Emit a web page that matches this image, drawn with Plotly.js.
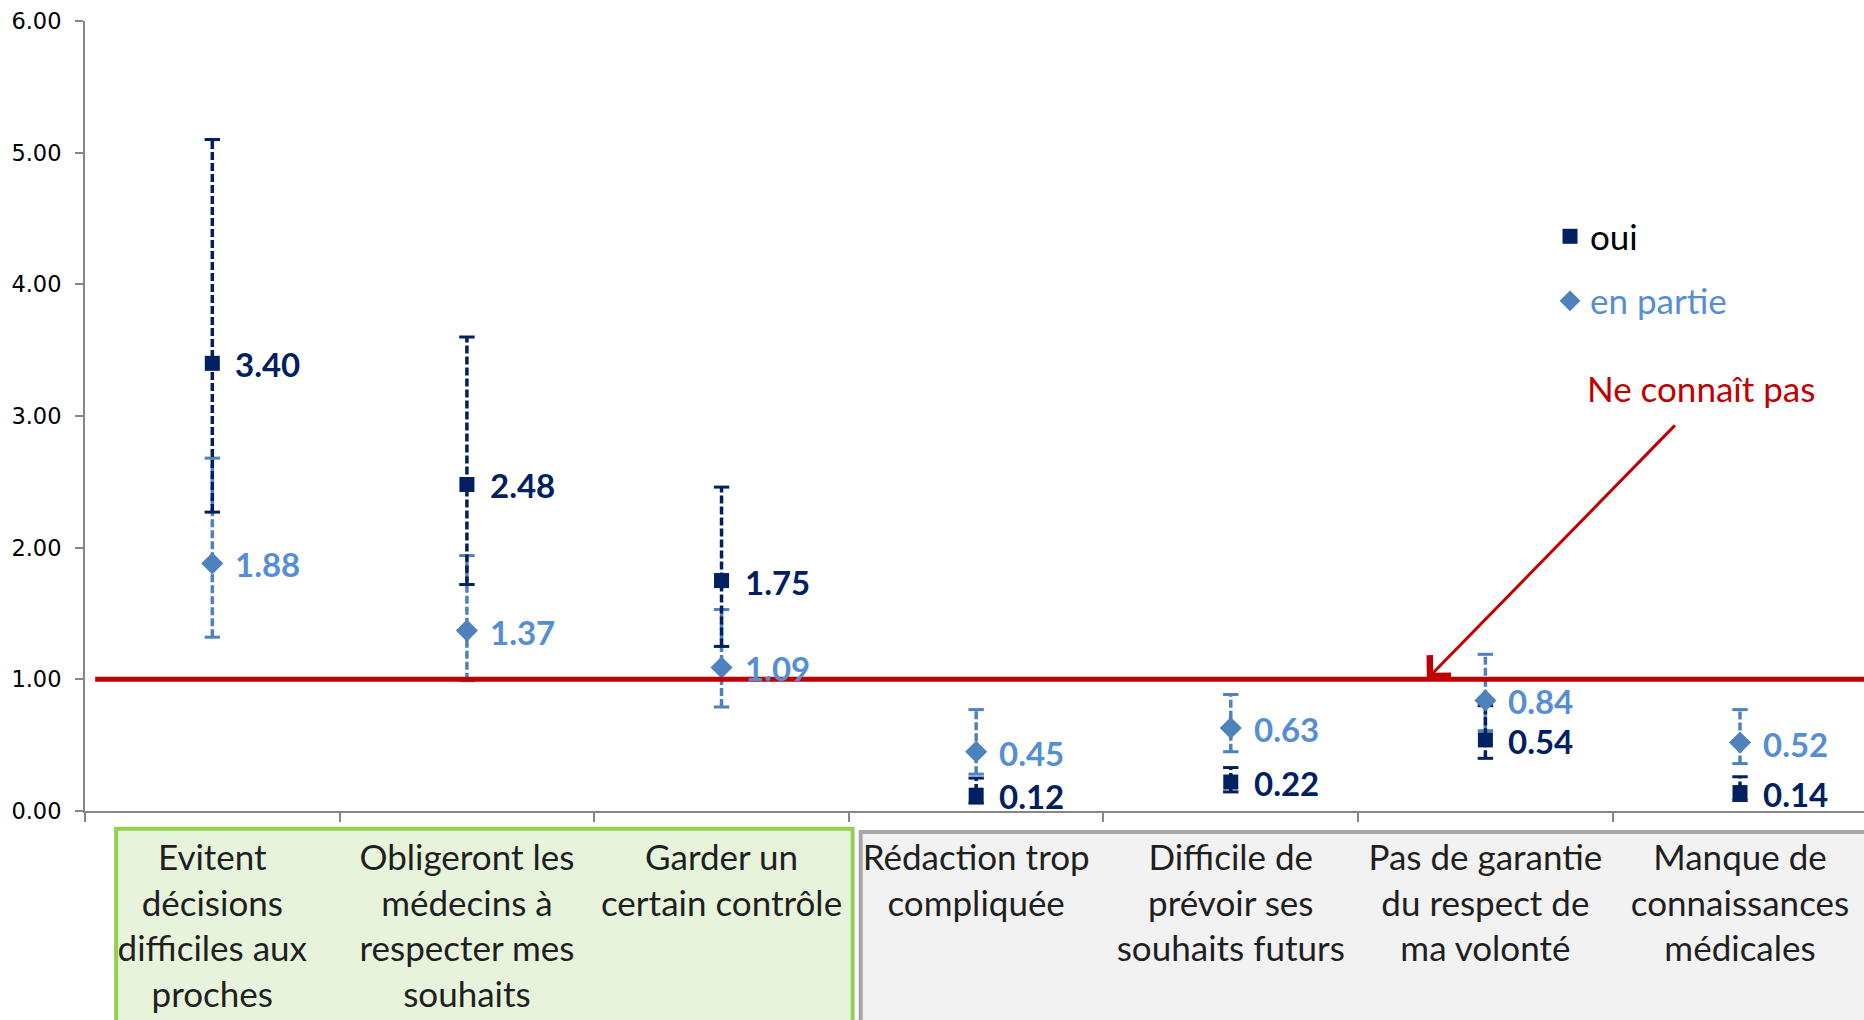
<!DOCTYPE html>
<html>
<head>
<meta charset="utf-8">
<script src="https://cdn.plot.ly/plotly-3.0.1.min.js"></script>
<style>
html,body{margin:0;padding:0;background:#fff;}
#chart{width:1864px;height:1020px;}
</style>
</head>
<body>
<div id="chart"></div>
<script>
// ---- data ----
var categories = [
  "Evitent<br>décisions<br>difficiles aux<br>proches",
  "Obligeront les<br>médecins à<br>respecter mes<br>souhaits",
  "Garder un<br>certain contrôle",
  "Rédaction trop<br>compliquée",
  "Difficile de<br>prévoir ses<br>souhaits futurs",
  "Pas de garantie<br>du respect de<br>ma volonté",
  "Manque de<br>connaissances<br>médicales"
];
var ouiValues   = [3.40, 2.48, 1.75, 0.12, 0.22, 0.54, 0.14];
var ouiLow      = [2.27, 1.72, 1.25, 0.06, 0.145, 0.40, 0.08];
var ouiHigh     = [5.10, 3.60, 2.46, 0.25, 0.33, 0.80, 0.26];
var partieValues = [1.88, 1.37, 1.09, 0.45, 0.63, 0.84, 0.52];
var partieLow    = [1.32, 0.99, 0.79, 0.28, 0.45, 0.61, 0.36];
var partieHigh   = [2.68, 1.94, 1.53, 0.77, 0.885, 1.19, 0.77];
var referenceValue = 1.00;
var seriesNames = ["oui", "en partie"];
var annotationText = "Ne connaît pas";

// ---- styles ----
var ouiColor = "#002060";
var partieColor = "#4F81BD";
var partieLabelColor = "#558ED5";
var redColor = "#C00000";
var axisColor = "#868686";
var FONT = "Lato, 'Open Sans', sans-serif";

function segments(lo, hi) {
  var xs = [], ys = [];
  for (var i = 0; i < categories.length; i++) {
    xs.push(categories[i], categories[i], null);
    ys.push(lo[i], hi[i], null);
  }
  return {x: xs, y: ys};
}
function caps(lo, hi) {
  var xs = [], ys = [];
  for (var i = 0; i < categories.length; i++) {
    xs.push(categories[i], categories[i]);
    ys.push(lo[i], hi[i]);
  }
  return {x: xs, y: ys};
}

var pSeg = segments(partieLow, partieHigh);
var oSeg = segments(ouiLow, ouiHigh);
var pCap = caps(partieLow, partieHigh);
var oCap = caps(ouiLow, ouiHigh);

var traces = [
  {x: pSeg.x, y: pSeg.y, type: "scatter", mode: "lines", connectgaps: false,
   line: {color: partieColor, width: 3.5, dash: "8px,3px"}, showlegend: false, hoverinfo: "skip"},
  {x: pCap.x, y: pCap.y, type: "scatter", mode: "markers", showlegend: false, hoverinfo: "skip",
   marker: {symbol: "line-ew", size: 11, line: {color: partieColor, width: 3}}},
  {x: oSeg.x, y: oSeg.y, type: "scatter", mode: "lines", connectgaps: false,
   line: {color: ouiColor, width: 3.5, dash: "8px,3px"}, showlegend: false, hoverinfo: "skip"},
  {x: oCap.x, y: oCap.y, type: "scatter", mode: "markers", showlegend: false, hoverinfo: "skip",
   marker: {symbol: "line-ew", size: 11, line: {color: ouiColor, width: 3}}},
  {x: categories, y: partieValues, type: "scatter", mode: "markers",
   name: '<span style="color:' + partieLabelColor + '">' + seriesNames[1] + '</span>',
   legendgroup: "b", legendrank: 2,
   marker: {symbol: "diamond", size: 17, color: partieColor}},
  {x: categories, y: ouiValues, type: "scatter", mode: "markers",
   name: seriesNames[0], legendgroup: "a", legendrank: 1,
   marker: {symbol: "square", size: 15, color: ouiColor}}
];

var annotations = [];
function addLabels(vals, color) {
  for (var i = 0; i < categories.length; i++) {
    annotations.push({x: categories[i], y: vals[i], xref: "x", yref: "y",
      text: "<b>" + vals[i].toFixed(2) + "</b>", showarrow: false,
      xanchor: "left", yanchor: "middle", xshift: 21, yshift: -1,
      font: {family: FONT, size: 33, color: color}});
  }
}
addLabels(partieValues, partieLabelColor);
addLabels(ouiValues, ouiColor);

annotations.push(
  {x: 4.77, y: referenceValue, xref: "x", yref: "y", ax: 5.75, ay: 2.94, axref: "x", ayref: "y",
   text: "", showarrow: true, arrowhead: 4, arrowsize: 1.9, arrowwidth: 3, arrowcolor: redColor},
  {x: 5.846, y: 3.21, xref: "x", yref: "y", text: annotationText, showarrow: false,
   font: {family: FONT, size: 35, color: redColor}, xanchor: "center", yanchor: "middle"}
);

var layout = {
  width: 1864, height: 1020,
  margin: {l: 85, r: 0, t: 21, b: 209},
  paper_bgcolor: "#ffffff", plot_bgcolor: "#ffffff",
  showlegend: true,
  legend: {x: 0.8235, y: 0.7645, xanchor: "left", yanchor: "top",
           font: {family: FONT, size: 35, color: "#000000"},
           tracegroupgap: 16, bgcolor: "rgba(0,0,0,0)", traceorder: "grouped"},
  xaxis: {type: "category", range: [-0.5, 6.487], showgrid: false, zeroline: false,
          showline: true, linecolor: axisColor, linewidth: 2,
          ticks: "outside", tickson: "boundaries", ticklen: 9, tickcolor: axisColor, tickwidth: 2,
          tickfont: {family: FONT, size: 35, color: "#1f1f1f"}, ticklabelstandoff: 15,
          fixedrange: true},
  yaxis: {range: [0, 6], dtick: 1, tickformat: ".2f", showgrid: false, zeroline: false,
          showline: true, linecolor: axisColor, linewidth: 2,
          ticks: "outside", ticklen: 8, tickcolor: axisColor, tickwidth: 2,
          tickfont: {family: "'DejaVu Sans', sans-serif", size: 22.5, color: "#000000"},
          ticklabelstandoff: 9, fixedrange: true},
  shapes: [
    {type: "rect", xref: "paper", yref: "paper", x0: 0.0175, x1: 0.4315, y0: -0.0225, y1: -0.30,
     line: {color: "#92D050", width: 4}, fillcolor: "#E8F3DC", layer: "below"},
    {type: "rect", xref: "paper", yref: "paper", x0: 0.436, x1: 1.02, y0: -0.0265, y1: -0.30,
     line: {color: "#A6A6A6", width: 4}, fillcolor: "#F2F2F2", layer: "below"},
    {type: "line", xref: "x", yref: "y", x0: -0.46, x1: 6.6, y0: referenceValue, y1: referenceValue,
     line: {color: redColor, width: 5}, layer: "above"}
  ],
  annotations: annotations
};

Plotly.newPlot("chart", traces, layout, {displayModeBar: false, staticPlot: true});
</script>
</body>
</html>
